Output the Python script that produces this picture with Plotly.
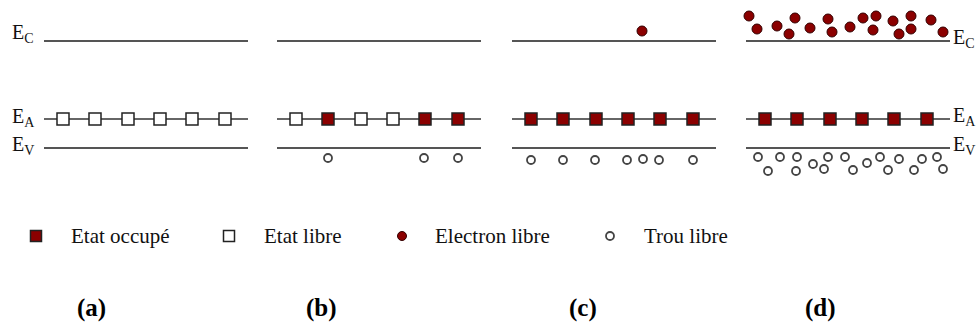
import plotly.graph_objects as go

# Band diagram of an acceptor-doped semiconductor at four temperatures.
panel_names = ["(a)", "(b)", "(c)", "(d)"]
panel_left = [44, 277, 512, 746]
band_length = 204

# Energy levels (vertical positions, top = small)
level_C = 41
level_A = 119
level_V = 148

# Acceptor sites along E_A (offset from the panel's left edge)
site_offsets = [19, 51, 84, 116, 148, 181]
# 1 = occupied acceptor (captured electron), 0 = free acceptor
occupancy = [
    [0, 0, 0, 0, 0, 0],
    [0, 1, 0, 0, 1, 1],
    [1, 1, 1, 1, 1, 1],
    [1, 1, 1, 1, 1, 1],
]

# Free electrons in the conduction band, per panel
electrons_x = [
    [],
    [],
    [642],
    [749, 757, 777, 789, 795, 810, 828, 832, 850, 863, 876, 873, 893, 899, 911, 911, 931, 943],
]
electrons_y = [
    [],
    [],
    [31],
    [16, 29, 26, 34, 18, 28, 19, 32, 27, 18, 16, 30, 21, 34, 16, 29, 20, 32],
]

# Free holes in the valence band, per panel
holes_x = [
    [],
    [328, 424, 458],
    [531, 563, 595, 627, 643, 659, 693],
    [758, 768, 780, 797, 796, 813, 824, 828, 845, 853, 867, 880, 888, 899, 914, 922, 937, 943],
]
holes_y = [
    [],
    [158, 158, 158],
    [160, 160, 160, 160, 159, 160, 160],
    [157, 171, 157, 157, 171, 164, 169, 157, 157, 170, 163, 157, 170, 159, 170, 159, 157, 169],
]

legend_labels = ["Etat occupé", "Etat libre", "Electron libre", "Trou libre"]
legend_marker_x = [36, 229, 402, 610]
legend_text_x = [69, 262, 433, 642]
legend_y = 236

RED = "#8b0000"
EDGE = "#222222"
HOLE_EDGE = "#444444"
LINE = "#555555"

fig = go.Figure()

for p, left in enumerate(panel_left):
    right = left + band_length
    for lvl, col, w in [(level_C, LINE, 2), (level_A, "#333333", 1.6), (level_V, LINE, 2)]:
        fig.add_trace(go.Scatter(
            x=[left, right], y=[lvl, lvl], mode="lines",
            line=dict(color=col, width=w), showlegend=False, hoverinfo="skip"))
    xs = [left + o for o in site_offsets]
    fig.add_trace(go.Scatter(
        x=xs, y=[level_A] * len(xs), mode="markers",
        marker=dict(symbol="square", size=12,
                    color=[RED if s else "white" for s in occupancy[p]],
                    line=dict(color=EDGE, width=1.5)),
        showlegend=False, hoverinfo="skip"))
    if electrons_x[p]:
        fig.add_trace(go.Scatter(
            x=electrons_x[p], y=electrons_y[p], mode="markers",
            marker=dict(symbol="circle", size=10, color=RED,
                        line=dict(color="#330000", width=1)),
            showlegend=False, hoverinfo="skip"))
    if holes_x[p]:
        fig.add_trace(go.Scatter(
            x=holes_x[p], y=holes_y[p], mode="markers",
            marker=dict(symbol="circle", size=8, color="white",
                        line=dict(color=HOLE_EDGE, width=1.8)),
            showlegend=False, hoverinfo="skip"))

# Legend drawn by hand
legend_styles = [
    dict(symbol="square", size=11, color=RED, line=dict(color=EDGE, width=1.5)),
    dict(symbol="square", size=11, color="white", line=dict(color=EDGE, width=1.5)),
    dict(symbol="circle", size=9, color=RED, line=dict(color="#330000", width=1)),
    dict(symbol="circle", size=8, color="white", line=dict(color=HOLE_EDGE, width=1.8)),
]
for mx, st in zip(legend_marker_x, legend_styles):
    fig.add_trace(go.Scatter(x=[mx], y=[legend_y], mode="markers", marker=st,
                             showlegend=False, hoverinfo="skip"))

serif = "Liberation Serif"
annotations = []
for tx, lab in zip(legend_text_x, legend_labels):
    annotations.append(dict(x=tx, y=legend_y, text=lab, xanchor="left", yanchor="middle",
                            showarrow=False, font=dict(family=serif, size=21, color="#111")))

# Level labels: left of panel (a), right of panel (d)
lvl_font = dict(family=serif, size=20, color="#111")
for txt, yy in [("E<sub>C</sub>", level_C - 8), ("E<sub>A</sub>", level_A - 2), ("E<sub>V</sub>", level_V - 3)]:
    annotations.append(dict(x=10, y=yy, text=txt, xanchor="left", yanchor="middle",
                            showarrow=False, font=lvl_font))
for txt, yy in [("E<sub>C</sub>", level_C - 3), ("E<sub>A</sub>", level_A - 3), ("E<sub>V</sub>", level_V - 3)]:
    annotations.append(dict(x=panel_left[3] + band_length + 1, y=yy, text=txt, xanchor="left",
                            yanchor="middle", showarrow=False, font=lvl_font))

panel_label_x = [91, 321, 583, 820]
for lx, name in zip(panel_label_x, panel_names):
    annotations.append(dict(x=lx, y=308, text="<b>" + name + "</b>", xanchor="center",
                            yanchor="middle", showarrow=False,
                            font=dict(family="Liberation Serif", size=25, color="#000")))

fig.update_layout(
    width=976, height=326,
    margin=dict(l=0, r=0, t=0, b=0),
    paper_bgcolor="white", plot_bgcolor="white",
    xaxis=dict(range=[0, 976], visible=False, fixedrange=True),
    yaxis=dict(range=[326, 0], visible=False, fixedrange=True),
    annotations=annotations,
    showlegend=False,
)

fig.write_html("out.html")
